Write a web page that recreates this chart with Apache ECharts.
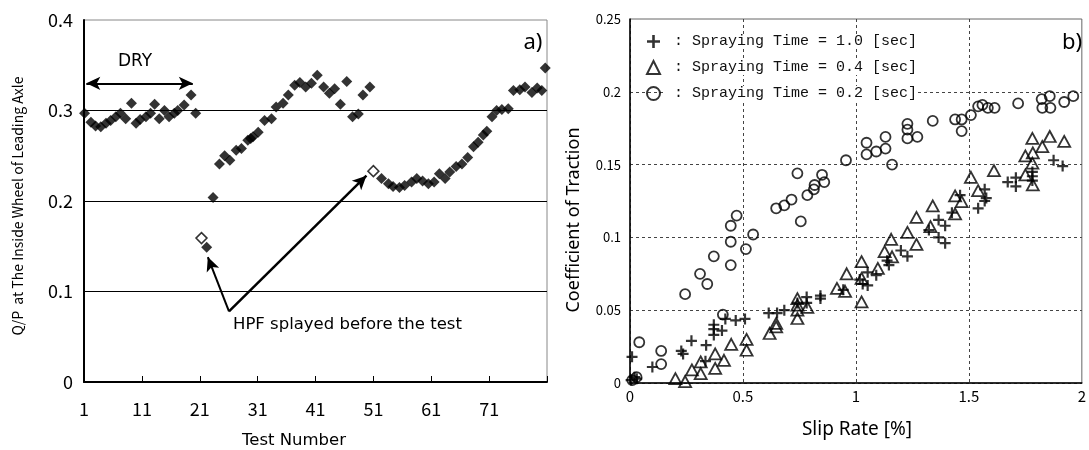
<!DOCTYPE html>
<html><head><meta charset="utf-8">
<script src="https://cdn.jsdelivr.net/npm/echarts@6/dist/echarts.min.js"></script>
<style>html,body{margin:0;padding:0;background:#fff}#c{width:1089px;height:450px}</style>
</head><body><div id="c"></div>
<script>
// ---- Panel a) data: [test number, Q/P] ----
const dryAndWetPoints = [
 [1.1,0.297],[2.2,0.287],[3,0.283],[3.9,0.282],[4.8,0.286],[5.6,0.289],[6.5,0.293],[7.3,0.297],[8.2,0.291],[9.2,0.308],
 [10,0.286],[10.7,0.290],[11.7,0.293],[12.5,0.297],[13.2,0.307],[14,0.291],[14.9,0.300],[15.7,0.293],[16.6,0.297],[17.2,0.300],
 [18.3,0.306],[19.5,0.317],[20.3,0.297],
 [22.2,0.149],[23.3,0.204],[24.4,0.241],[25.3,0.250],[26.2,0.245],[27.3,0.256],[28.2,0.258],[29.3,0.267],[29.8,0.269],[30.2,0.271],
 [31.1,0.276],[32.2,0.289],[33.4,0.291],[34.2,0.304],[35.4,0.308],[36.3,0.317],[37.4,0.328],[38.3,0.331],[39.3,0.326],[40.3,0.330],
 [41.3,0.339],[42.4,0.326],[43.4,0.319],[44.3,0.324],[45.3,0.307],[46.4,0.332],[47.4,0.293],[48.4,0.296],[49.2,0.317],[50.4,0.326],
 [52.4,0.225],[53.6,0.219],[54.4,0.216],[55.5,0.215],[56.4,0.217],[57.6,0.221],[58.5,0.225],[59.5,0.222],[60.5,0.219],[61.5,0.221],
 [62.4,0.230],[63.4,0.225],[64.2,0.232],[65.3,0.238],[66.3,0.241],[67.3,0.248],[68.3,0.260],[69.1,0.265],[70,0.273],[70.6,0.277],
 [71.5,0.293],[72.3,0.300],[73.2,0.301],[74.3,0.302],[75.2,0.322],[76.3,0.323],[77.2,0.326],[78.4,0.320],[79.3,0.325],[80.1,0.322],[80.7,0.347]
];
const hpfPoints = [[21.3,0.159],[51,0.233]];
const xTicksA = [1,11,21,31,41,51,61,71];

// ---- Panel b) data: [slip rate %, coefficient of traction] ----
const spray10 = [
 [0.005,0.002],[0.02,0.004],[0.03,0.003],[0.009,0.018],[0.099,0.011],[0.227,0.022],[0.235,0.020],[0.272,0.029],[0.337,0.026],[0.334,0.015],
 [0.371,0.040],[0.371,0.037],[0.371,0.033],[0.407,0.036],[0.422,0.044],[0.468,0.043],[0.509,0.044],[0.614,0.048],[0.651,0.048],[0.683,0.050],
 [0.741,0.055],[0.782,0.059],[0.782,0.055],[0.843,0.060],[0.843,0.058],[0.944,0.064],[1.017,0.071],[1.030,0.068],[1.052,0.076],[1.052,0.067],
 [1.090,0.074],[1.138,0.084],[1.146,0.081],[1.199,0.091],[1.228,0.087],[1.323,0.105],[1.366,0.112],[1.395,0.108],[1.366,0.100],[1.395,0.096],
 [1.425,0.117],[1.461,0.129],[1.541,0.120],[1.570,0.125],[1.577,0.127],[1.570,0.133],[1.672,0.138],[1.708,0.141],[1.708,0.135],
 [1.781,0.145],[1.781,0.142],[1.781,0.139],[1.875,0.153],[1.915,0.149]
];
const spray04 = [
 [0.201,0.003],[0.244,0.001],[0.274,0.009],[0.313,0.0145],[0.313,0.0065],[0.377,0.020],[0.377,0.010],[0.416,0.0156],[0.448,0.0266],
 [0.516,0.030],[0.516,0.0225],[0.618,0.034],[0.647,0.041],[0.647,0.0385],[0.741,0.058],[0.741,0.0535],[0.741,0.050],[0.741,0.0443],
 [0.785,0.052],[0.916,0.065],[0.952,0.063],[0.959,0.075],[1.025,0.0557],[1.025,0.0833],[1.025,0.0719],[1.097,0.0787],[1.127,0.0902],
 [1.160,0.0867],[1.156,0.0987],[1.228,0.1035],[1.268,0.1138],[1.268,0.0952],[1.330,0.1074],[1.340,0.1216],[1.439,0.1161],[1.439,0.1285],
 [1.468,0.1246],[1.509,0.1413],[1.541,0.1321],[1.611,0.1459],[1.750,0.156],[1.750,0.1429],[1.781,0.168],[1.781,0.151],[1.783,0.158],
 [1.783,0.1361],[1.825,0.1624],[1.858,0.1693],[1.922,0.1659]
];
const spray02 = [
 [0.01,0.002],[0.029,0.004],[0.041,0.028],[0.138,0.022],[0.138,0.013],[0.244,0.061],[0.310,0.075],[0.342,0.068],[0.371,0.087],[0.411,0.047],
 [0.446,0.081],[0.446,0.097],[0.446,0.108],[0.472,0.115],[0.513,0.092],[0.545,0.102],[0.647,0.120],[0.683,0.122],[0.715,0.126],[0.741,0.144],
 [0.756,0.111],[0.785,0.129],[0.814,0.133],[0.817,0.136],[0.850,0.143],[0.860,0.138],[0.956,0.153],[1.047,0.165],[1.047,0.157],[1.090,0.159],
 [1.131,0.169],[1.131,0.161],[1.160,0.150],[1.228,0.178],[1.228,0.174],[1.228,0.168],[1.272,0.169],[1.340,0.180],[1.439,0.181],[1.468,0.181],
 [1.468,0.173],[1.509,0.184],[1.541,0.190],[1.560,0.191],[1.584,0.189],[1.614,0.189],[1.718,0.192],[1.822,0.195],[1.825,0.189],[1.858,0.197],
 [1.861,0.189],[1.922,0.193],[1.962,0.197]
];
const legendNames = [' : Spraying Time = 1.0 [sec]',' : Spraying Time = 0.4 [sec]',' : Spraying Time = 0.2 [sec]'];

const jp = '"Noto Sans CJK JP", "Noto Sans", sans-serif';
const dv = '"DejaVu Sans", sans-serif';
const chart = echarts.init(document.getElementById('c'), null, {renderer:'canvas'});
const plusPath = 'path://M4,0H6V4H10V6H6V10H4V6H0V4H4Z';

chart.setOption({
  animation:false,
  backgroundColor:'#fff',
  grid:[
    {left:84, top:20, width:463, height:362, show:true, borderColor:'#888', borderWidth:1},
    {left:630, top:19, width:457, height:364, show:true, borderColor:'#666', borderWidth:1}
  ],
  xAxis:[
    {gridIndex:0, type:'value', min:1, max:81, interval:10,
     axisLine:{lineStyle:{color:'#000', width:2}},
     axisTick:{show:true, inside:true, length:6, lineStyle:{color:'#000', width:1}},
     axisLabel:{margin:18, color:'#000', fontSize:18, fontFamily:jp,
       formatter:v=> xTicksA.indexOf(Math.round(v))>=0 ? String(Math.round(v)) : ''},
     splitLine:{show:false}},
    {gridIndex:1, type:'value', min:0, max:2, interval:0.5,
     axisLine:{lineStyle:{color:'#000', width:1.5}},
     axisTick:{show:false},
     axisLabel:{margin:6, color:'#000', fontSize:15, fontFamily:jp},
     splitLine:{show:true, showMaxLine:false, lineStyle:{color:'#444', type:[3,3], width:1}}}
  ],
  yAxis:[
    {gridIndex:0, type:'value', min:0, max:0.4, interval:0.1,
     axisLine:{show:true, lineStyle:{color:'#000', width:2}},
     axisTick:{show:false},
     axisLabel:{margin:11, color:'#000', fontSize:18, fontFamily:jp, formatter:v=>String(+v.toFixed(2))},
     splitLine:{show:true, showMaxLine:false, lineStyle:{color:'#000', width:1}}},
    {gridIndex:1, type:'value', min:0, max:0.25, interval:0.05,
     axisLine:{show:true, lineStyle:{color:'#000', width:1.5}},
     axisTick:{show:false},
     axisLabel:{margin:9, color:'#000', fontSize:13, fontFamily:jp, formatter:v=>String(+v.toFixed(2))},
     splitLine:{show:true, showMaxLine:false, lineStyle:{color:'#444', type:[3,3], width:1}}}
  ],
  legend:{
    show:true, orient:'vertical', left:641, top:29, itemGap:11,
    itemWidth:13, itemHeight:13,
    data:legendNames,
    textStyle:{fontFamily:'"Liberation Mono", "DejaVu Sans Mono", monospace', fontSize:15, color:'#111', backgroundColor:'#fff'},
    selectedMode:false
  },
  graphic:[
    {type:'text', x:135, y:62, style:{text:'DRY', font:'17px '+dv, fill:'#000', align:'center', verticalAlign:'middle'}},
    {type:'text', x:233, y:325, style:{text:'HPF splayed before the test', font:'16.5px '+dv, fill:'#000', align:'left', verticalAlign:'middle'}},
    {type:'text', x:294, y:441, style:{text:'Test Number', font:'16.5px '+dv, fill:'#000', align:'center', verticalAlign:'middle'}},
    {type:'text', x:533, y:43, style:{text:'a)', font:'22px "Noto Sans", sans-serif', fill:'#000', align:'center', verticalAlign:'middle'}},
    {type:'text', x:1072, y:43, style:{text:'b)', font:'22px "Noto Sans", sans-serif', fill:'#000', align:'center', verticalAlign:'middle'}},
    {type:'text', x:18, y:206, rotation:Math.PI/2, style:{text:'Q/P  at The Inside Wheel of Leading Axle', font:'14px '+jp, fill:'#000', align:'center', verticalAlign:'middle'}},
    {type:'text', x:574, y:220, rotation:Math.PI/2, style:{text:'Coefficient of Traction', font:'18px "Noto Sans", sans-serif', fill:'#000', align:'center', verticalAlign:'middle'}},
    {type:'text', x:857, y:430, style:{text:'Slip Rate [%]', font:'19px "Noto Sans", sans-serif', fill:'#000', align:'center', verticalAlign:'middle'}}
  ],
  series:[
    {type:'scatter', name:'a', xAxisIndex:0, yAxisIndex:0, data:dryAndWetPoints,
     symbol:'diamond', symbolSize:11, itemStyle:{color:'#000'}, silent:true,
     markLine:{silent:true, symbol:['none','arrow'], symbolSize:[10,14],
       label:{show:false}, lineStyle:{color:'#000', width:2, type:'solid'},
       data:[
         [{coord:[1.4,0.330], symbol:'arrow'},{coord:[19.8,0.330], symbol:'arrow'}],
         [{coord:[26.05,0.078]},{coord:[22.4,0.138]}],
         [{coord:[26.05,0.078], lineStyle:{width:2.5}},{coord:[49.8,0.228]}]
       ]}},
    {type:'scatter', name:'hpf', xAxisIndex:0, yAxisIndex:0, data:hpfPoints,
     symbol:'diamond', symbolSize:11, itemStyle:{color:'#fff', borderColor:'#000', borderWidth:1.5}, silent:true, z:3},
    {type:'scatter', name:legendNames[0], xAxisIndex:1, yAxisIndex:1, data:spray10,
     symbol:plusPath, symbolSize:11, itemStyle:{color:'#000'}, silent:true},
    {type:'scatter', name:legendNames[1], xAxisIndex:1, yAxisIndex:1, data:spray04,
     symbol:'triangle', symbolSize:[12,11], itemStyle:{color:'rgba(255,255,255,0)', borderColor:'#000', borderWidth:1.8}, silent:true},
    {type:'scatter', name:legendNames[2], xAxisIndex:1, yAxisIndex:1, data:spray02,
     symbol:'circle', symbolSize:10, itemStyle:{color:'rgba(255,255,255,0)', borderColor:'#000', borderWidth:1.8}, silent:true}
  ]
});
</script></body></html>
